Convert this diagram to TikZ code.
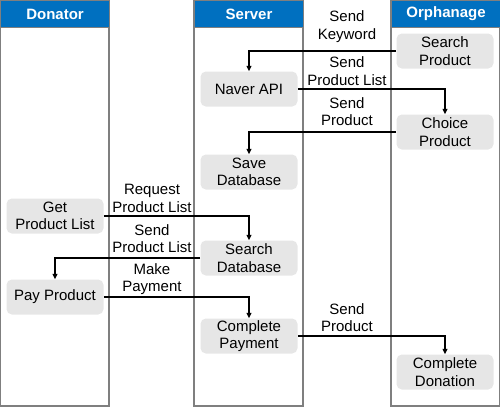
\documentclass[tikz,border=0pt]{standalone}
\usepackage{fontspec}
\setmainfont{Liberation Sans}
\usepackage{tikz}
\usepackage{xcolor}
\usetikzlibrary{arrows.meta, positioning}
\definecolor{laneblue}{HTML}{0070C0}
\definecolor{lanegray}{HTML}{7F7F7F}
\definecolor{boxgray}{HTML}{E6E6E6}

\begin{document}
\begin{tikzpicture}[
  x=0.75pt, y=-0.75pt,
  every node/.style={font=\fontsize{11.25}{13.1}\selectfont, align=center},
  lane/.style={draw=lanegray, line width=0.8pt},
  head/.style={draw=lanegray, line width=0.8pt, fill=laneblue, text=white,
               font=\fontsize{11.25}{13.1}\selectfont\bfseries,
               minimum width=81.75pt, minimum height=20.25pt, inner sep=0pt, anchor=north west},
  task/.style={fill=boxgray, rounded corners=4pt, minimum width=72.75pt,
               minimum height=26.25pt, inner sep=1pt},
  arr/.style={-{Triangle[length=4pt, width=3.5pt]}, line width=1pt}
]
\useasboundingbox (0,0) rectangle (500,407);
% lanes
\draw[lane] (0,0) rectangle (109,406);
\draw[lane] (194,0) rectangle (303,406);
\draw[lane] (391,0) rectangle (500,406);
\node[head] (donator) at (0,0)   {Donator};
\node[head] (server)  at (194,0) {Server};
\node[head] (orphan)  at (391,0) {Orphanage};
% tasks
\node[task] (search)   at (445,51)  {Search\\Product};
\node[task] (naver)    at (249,89)  {Naver API};
\node[task] (choice)   at (445,132) {Choice\\Product};
\node[task] (savedb)   at (249,172) {Save\\Database};
\node[task] (getlist)  at (55,216)  {Get\\Product List};
\node[task] (searchdb) at (249,258) {Search\\Database};
\node[task] (pay)      at (55,297)  {Pay Product};
\node[task] (payment)  at (249,336) {Complete\\Payment};
\node[task] (donation) at (445,372) {Complete\\Donation};
% messages
\node (keyword)  at (347,26.5)  {Send\\Keyword};
\node (sendlist) at (347,71)    {Send\\Product List};
\node (sendprod) at (347,111.5) {Send\\Product};
\node (reqlist)  at (152,198.5) {Request\\Product List};
\node (retlist)  at (152,238.5) {Send\\Product List};
\node (makepay)  at (152,279)   {Make\\Payment};
\node (shipprod) at (347,317.5) {Send\\Product};
\draw[arr] (search.west) -| (naver.north);
\draw[arr] (naver.east) -| (choice.north);
\draw[arr] (choice.west) -| (savedb.north);
\draw[arr] (getlist.east) -| (searchdb.north);
\draw[arr] (searchdb.west) -| (pay.north);
\draw[arr] (pay.east) -| (payment.north);
\draw[arr] (payment.east) -| (donation.north);
\end{tikzpicture}
\end{document}
